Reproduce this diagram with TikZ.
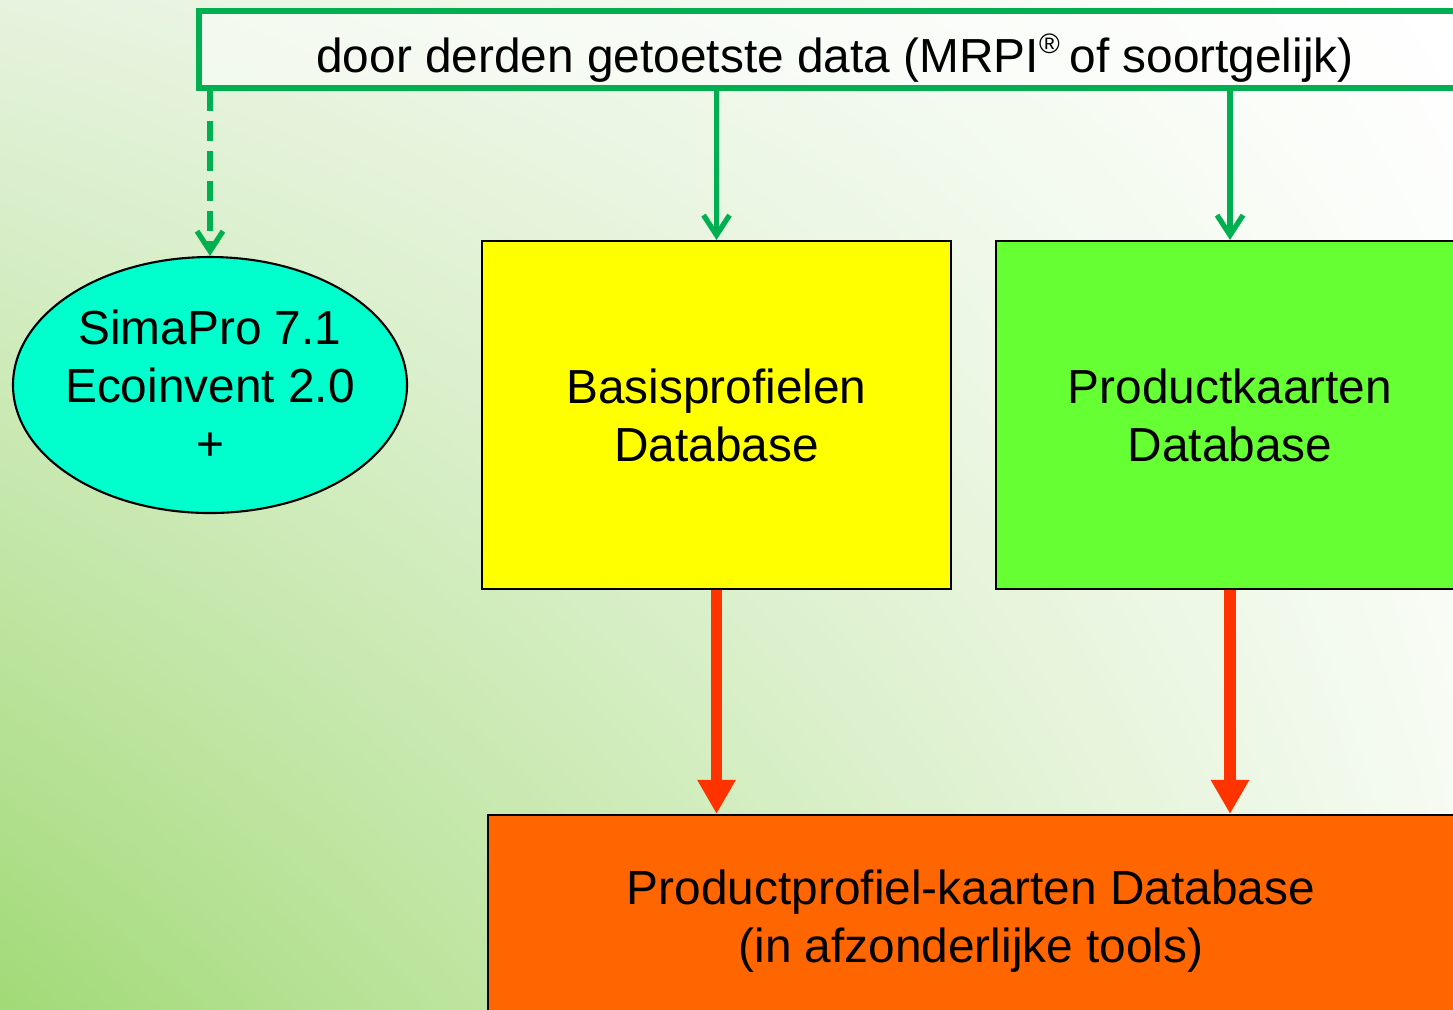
\documentclass[tikz,border=0pt]{standalone}
\usepackage{fontspec}
\setmainfont{Liberation Sans}
\usepackage{tikz}
\usetikzlibrary{arrows.meta,shapes.geometric,shadings}

\definecolor{bgdark}{HTML}{A2DA77}
\definecolor{bgleft}{HTML}{E6F3DE}
\definecolor{bgright}{HTML}{F4FAF0}
\definecolor{linegreen}{HTML}{00B050}
\definecolor{aqua}{HTML}{00FFCC}
\definecolor{yellowbox}{HTML}{FFFF00}
\definecolor{lime}{HTML}{66FF33}
\definecolor{orangebox}{HTML}{FF6600}
\definecolor{arrowred}{HTML}{FF3300}

\tikzset{
  txt/.style={font=\fontsize{13.6}{16.5}\selectfont, align=center},
  dbbox/.style={txt, draw=black, line width=0.6pt, inner sep=0pt},
  greenarrow/.style={draw=linegreen, line width=1.5pt, -{Straight Barb[length=0.2cm, width=0.26cm, line width=1.5pt]}},
  redarrow/.style={draw=arrowred, line width=3.4pt, -{Triangle[length=0.34cm, width=0.36cm]}}
}

\begin{document}
\begin{tikzpicture}
    \useasboundingbox (0,0) rectangle (14.53,-10.09);
    \clip (0,0) rectangle (14.53,-10.09);
    % background
    \shade [lower left=bgdark, upper left=bgleft, upper right=white, lower right=bgright]
        (0,-10.09) rectangle (14.53,0);

    % top source box
    \node [txt, draw=linegreen, line width=1.7pt, fill=white, fill opacity=0.5, text opacity=1,
           minimum width=12.72cm, minimum height=0.77cm, inner sep=0pt,
           text height=0.45cm, text depth=0cm] (mrpi) at (8.35,-0.495)
        {door derden getoetste data (MRPI\textsuperscript{\footnotesize\textregistered}\,of soortgelijk)};

    % databases
    \node [txt, ellipse, draw=black, line width=0.6pt, fill=aqua, minimum width=3.94cm,
           minimum height=2.56cm, inner xsep=-0.06cm, inner ysep=0pt] (simapro) at (2.10,-3.85)
        {SimaPro 7.1\\Ecoinvent 2.0\\+};
    \node [dbbox, fill=yellowbox, minimum width=4.69cm, minimum height=3.48cm] (basis) at (7.165,-4.15)
        {Basisprofielen\\Database};
    \node [dbbox, fill=lime, minimum width=4.68cm, minimum height=3.48cm] (kaart) at (12.30,-4.15)
        {Productkaarten\\Database};
    \node [dbbox, fill=orangebox, minimum width=9.66cm, minimum height=2.12cm] (profiel) at (9.71,-9.21)
        {Productprofiel-kaarten Database\\(in afzonderlijke tools)};

    % connectors
    \draw [greenarrow, dash pattern=on 0.2cm off 0.1cm] (mrpi.south -| simapro.north) -- (simapro.north);
    \draw [greenarrow] (mrpi.south -| basis.north) -- (basis.north);
    \draw [greenarrow] (mrpi.south -| kaart.north) -- (kaart.north);
    \draw [redarrow] (basis.south) -- (basis.south |- profiel.north);
    \draw [redarrow] (kaart.south) -- (kaart.south |- profiel.north);
\end{tikzpicture}
\end{document}
